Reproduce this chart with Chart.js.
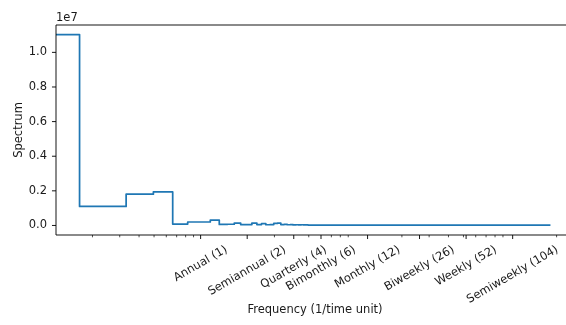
<!DOCTYPE html>
<html><head><meta charset="utf-8">
<script src="https://cdn.jsdelivr.net/npm/chart.js@4/dist/chart.umd.min.js"></script>
<style>html,body{margin:0;padding:0;background:#fff;overflow:hidden;width:566px;height:325px}</style>
</head><body>
<canvas id="c" width="576" height="325" style="display:block;width:576px;height:325px"></canvas>
<script>
// Step edges (frequency where each value starts, 1/time unit) and spectrum values
const frequencies = [0, 0.165, 0.33, 0.495, 0.66, 0.825, 0.99, 1.155, 1.32, 1.485, 1.65, 1.815, 1.98, 2.145, 2.31, 2.475, 2.64, 2.805, 2.97, 3.135, 3.3, 3.465, 3.63, 3.795, 3.96, 4.125, 4.29, 4.455, 4.62, 4.785, 4.95, 182.5];
const spectrum = [11030000, 1100000, 1810000, 1940000, 80000, 200000, 200000, 310000, 60000, 70000, 140000, 50000, 50000, 140000, 50000, 100000, 40000, 50000, 120000, 130000, 50000, 60000, 40000, 50000, 30000, 40000, 30000, 40000, 30000, 30000, 20000, 20000];
const tickFrequencies = [1, 2, 4, 6, 12, 26, 52, 104];
const tickLabels = ["Annual (1)", "Semiannual (2)", "Quarterly (4)", "Bimonthly (6)", "Monthly (12)", "Biweekly (26)", "Weekly (52)", "Semiweekly (104)"];
const yTickValues = [0, 2000000, 4000000, 6000000, 8000000, 10000000];

const FAMILY = '"DejaVu Sans", sans-serif';
const FS = 11.5;
const pt = FS / 10;
const TXT = '#1a1a1a';

const axesPlugin = {
  id: 'mplAxes',
  afterDraw(chart) {
    const {ctx, chartArea: a, scales: {x, y}} = chart;
    ctx.save();
    ctx.strokeStyle = '#000';
    ctx.lineWidth = 0.8 * pt;
    const seg = (x1, y1, x2, y2) => { ctx.beginPath(); ctx.moveTo(x1, y1); ctx.lineTo(x2, y2); ctx.stroke(); };
    // spines
    ctx.beginPath();
    ctx.moveTo(a.left, a.bottom); ctx.lineTo(a.left, a.top); ctx.lineTo(a.right, a.top); ctx.lineTo(a.right, a.bottom); ctx.closePath();
    ctx.stroke();
    // y ticks
    yTickValues.forEach(v => { const py = y.getPixelForValue(v); seg(a.left, py, a.left - 3.5 * pt, py); });
    // x major ticks
    tickFrequencies.forEach(v => { const px = x.getPixelForValue(v); seg(px, a.bottom, px, a.bottom + 3.5 * pt); });
    // x minor ticks (log subs 2..9)
    ctx.lineWidth = 0.6 * pt;
    for (let e = -1; e <= 2; e++) {
      for (let m = 2; m <= 9; m++) {
        const v = m * Math.pow(10, e);
        if (v < x.min || v > x.max) continue;
        if (tickFrequencies.some(t => Math.abs(t - v) < 1e-9)) continue;
        const px = x.getPixelForValue(v);
        seg(px, a.bottom, px, a.bottom + 2 * pt);
      }
    }
    // x tick labels, rotated 30deg, bbox centred on tick
    ctx.font = FS + 'px ' + FAMILY;
    ctx.fillStyle = TXT;
    const ang = Math.PI / 6;
    tickFrequencies.forEach((v, i) => {
      const px = x.getPixelForValue(v);
      const w = ctx.measureText(tickLabels[i]).width;
      const h = FS * 1.164;
      const H = w * Math.sin(ang) + h * Math.cos(ang);
      const cy = a.bottom + 7 * pt + H / 2;
      ctx.save();
      ctx.translate(px, cy);
      ctx.rotate(-ang);
      ctx.textAlign = 'center';
      ctx.textBaseline = 'middle';
      ctx.fillText(tickLabels[i], 0, 0);
      ctx.restore();
    });
    // offset text
    ctx.textAlign = 'left';
    ctx.textBaseline = 'alphabetic';
    ctx.fillText('1e7', a.left, a.top - 4);
    ctx.restore();
  }
};

new Chart(document.getElementById('c'), {
  type: 'line',
  data: {
    datasets: [{
      data: frequencies.map((f, i) => ({x: f, y: spectrum[i]})),
      borderColor: '#1f77b4',
      borderWidth: 1.5 * pt,
      pointRadius: 0,
      stepped: true,
      fill: false,
      tension: 0,
      borderJoinStyle: 'round'
    }]
  },
  options: {
    responsive: false,
    animation: false,
    devicePixelRatio: 1,
    layout: {padding: {top: 25, right: 2, left: 0, bottom: 0}},
    plugins: {legend: {display: false}, tooltip: {enabled: false}},
    scales: {
      x: {
        type: 'logarithmic',
        min: 0.1162, max: 259.1,
        grid: {display: false, drawTicks: false},
        border: {display: false},
        ticks: {display: false},
        afterBuildTicks(s) { s.ticks = tickFrequencies.map(v => ({value: v})); },
        afterFit(s) { s.height = 90; },
        title: {display: true, text: 'Frequency (1/time unit)', color: TXT, font: {family: FAMILY, size: FS}, padding: {top: 0, bottom: 7.6}}
      },
      y: {
        type: 'linear',
        min: -551500, max: 11581500,
        grid: {display: false, drawTicks: false},
        border: {display: false},
        ticks: {color: TXT, font: {family: FAMILY, size: FS}, padding: 9, callback: v => (v / 1e7).toFixed(1)},
        afterBuildTicks(s) { s.ticks = yTickValues.map(v => ({value: v})); },
        afterFit(s) { s.width = 56; },
        title: {display: true, text: 'Spectrum', color: TXT, font: {family: FAMILY, size: FS}, padding: {top: 12, bottom: 0}}
      }
    }
  },
  plugins: [axesPlugin]
});
</script>
</body></html>
